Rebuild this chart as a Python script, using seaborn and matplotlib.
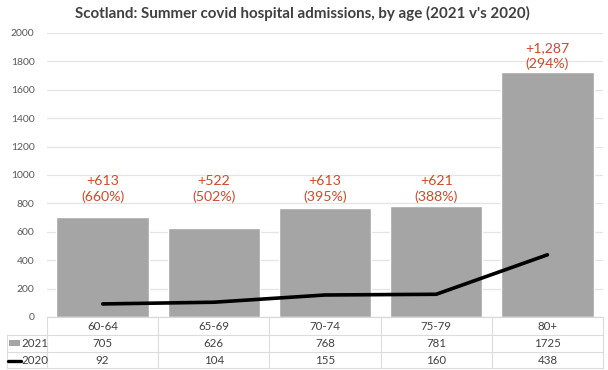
import matplotlib
matplotlib.use("Agg")
import matplotlib.pyplot as plt
import matplotlib.transforms as mtransforms
import seaborn as sns
import pandas as pd

categories = ["60-64", "65-69", "70-74", "75-79", "80+"]
values_2021 = [705, 626, 768, 781, 1725]
values_2020 = [92, 104, 155, 160, 438]
change_labels = ["+613\n(660%)", "+522\n(502%)", "+613\n(395%)", "+621\n(388%)", "+1,287\n(294%)"]
yticks = [0, 200, 400, 600, 800, 1000, 1200, 1400, 1600, 1800, 2000]

sns.set_theme(style="white")
plt.rcParams["font.family"] = ["Lato", "DejaVu Sans"]

W, H = 608, 370
fig = plt.figure(figsize=(W / 100, H / 100), dpi=100)
px_l, px_r, px_b, px_t = 47, 603, 317, 33
ax = fig.add_axes([px_l / W, (H - px_b) / H, (px_r - px_l) / W, (px_b - px_t) / H])

df = pd.DataFrame({"age": categories, "y2021": values_2021, "y2020": values_2020})
sns.barplot(data=df, x="age", y="y2021", color="#A5A5A5", saturation=1, width=0.83, ax=ax, zorder=2)
sns.lineplot(x=list(range(len(categories))), y=values_2020, color="black", linewidth=2.6, ax=ax, zorder=3)

ax.set_xlim(-0.5, len(categories) - 0.5)
ax.set_ylim(0, 2000)
ax.set_yticks(yticks)
ax.set_yticklabels([str(t) for t in yticks], color="#595959", fontsize=7.5)
ax.tick_params(axis="y", length=0, pad=9)
ax.set_xticks([])
ax.set_xlabel("")
ax.set_ylabel("")
ax.yaxis.grid(True, color="#E4E4E4", linewidth=0.9, zorder=0)
ax.set_axisbelow(True)
for s in ["left", "right", "top"]:
    ax.spines[s].set_visible(False)
ax.spines["bottom"].set_color("#D9D9D9")
ax.spines["bottom"].set_linewidth(0.9)

for i, (v, lab) in enumerate(zip(values_2021, change_labels)):
    ax.text(i, max(v + 110, 900), lab, ha="center", va="center", color="#D0492A",
            fontsize=10.2, linespacing=1.3, zorder=4)

fig.suptitle("Scotland: Summer covid hospital admissions, by age (2021 v's 2020)",
             x=0.497, y=0.985, fontsize=10.9, fontweight="bold", color="#404040")

# data table below the axes
trans = mtransforms.blended_transform_factory(ax.transData, fig.transFigure)
ftrans = fig.transFigure
def fy(p):
    return (H - p) / H
row_y = [317, 335, 352, 368]
grid_c = "#DCDCDC"
x_left_px = 7
n = len(categories)
for k, yy in enumerate(row_y):
    if k == 0:
        continue
    fig.add_artist(plt.Line2D([x_left_px / W, px_r / W], [fy(yy), fy(yy)], transform=ftrans,
                              color=grid_c, linewidth=0.8))
for j in range(n + 1):
    xx = j - 0.5
    fig.add_artist(plt.Line2D([xx, xx], [fy(row_y[0]), fy(row_y[3])], transform=trans,
                              color=grid_c, linewidth=0.8))
fig.add_artist(plt.Line2D([x_left_px / W, x_left_px / W], [fy(row_y[1]), fy(row_y[3])],
                          transform=ftrans, color=grid_c, linewidth=0.8))

tc = "#404040"
for j in range(n):
    for r, vals in enumerate([categories, values_2021, values_2020]):
        ymid = fy((row_y[r] + row_y[r + 1]) / 2)
        t = plt.Text(j, ymid, str(vals[j]), transform=trans, ha="center", va="center",
                     color=tc, fontsize=8.3)
        fig.add_artist(t)

for r, lab in enumerate(["2021", "2020"], start=1):
    ymid = fy((row_y[r] + row_y[r + 1]) / 2)
    fig.text(21 / W, ymid, lab, ha="left", va="center", color=tc, fontsize=8.3)
fig.add_artist(plt.Rectangle((9 / W, fy(346)), 11 / W, 6 / H, transform=ftrans,
                             facecolor="#A5A5A5", edgecolor="none"))
fig.add_artist(plt.Line2D([8 / W, 21 / W], [fy(360.5), fy(360.5)], transform=ftrans,
                          color="black", linewidth=2.4))

fig.savefig("out.png", dpi=100)
